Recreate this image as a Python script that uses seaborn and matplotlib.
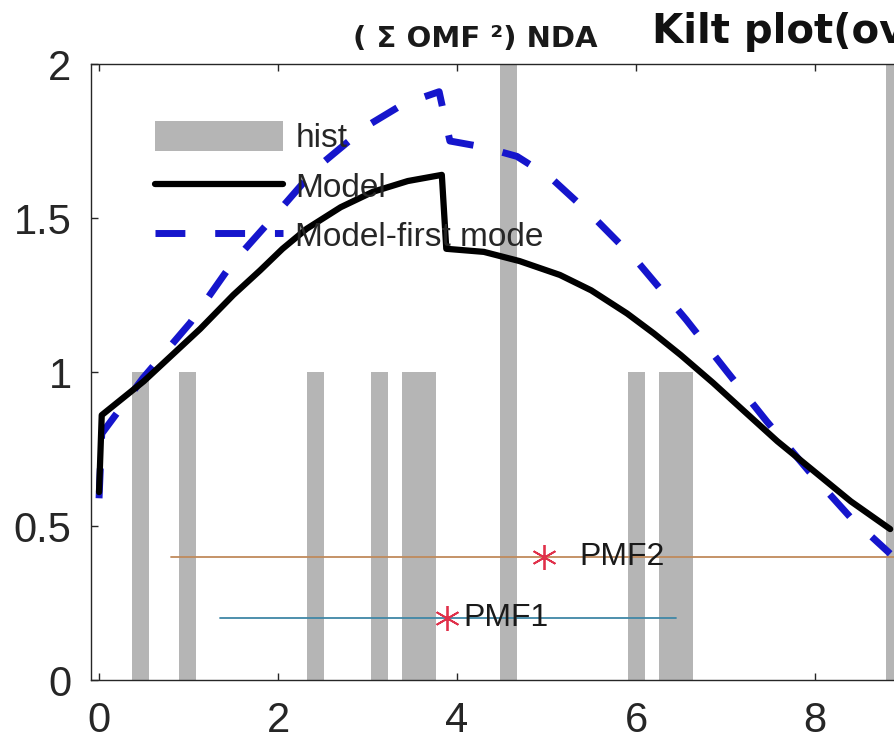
import numpy as np
import pandas as pd
import matplotlib
matplotlib.use("Agg")
import matplotlib.pyplot as plt
from matplotlib.patches import Patch
from matplotlib.lines import Line2D
import seaborn as sns

# ---------------- data ----------------
hist_x = [0.46, 0.99, 2.42, 3.13, 3.48, 3.67, 4.57, 6.00, 6.35, 6.54, 8.885]
hist_count = [1, 1, 1, 1, 1, 1, 3, 1, 1, 1, 3]

model_x = [0.0, 0.03, 0.5, 1.13, 1.5, 1.8, 2.05, 2.32, 2.7, 3.06, 3.45, 3.83, 3.88,
           4.3, 4.7, 5.15, 5.5, 5.9, 6.2, 6.5, 6.86, 7.2, 7.58, 7.98, 8.4, 8.84]
model_y = [0.61, 0.86, 0.97, 1.14, 1.25, 1.33, 1.40, 1.465, 1.535, 1.585, 1.62, 1.64, 1.40,
           1.39, 1.36, 1.315, 1.265, 1.19, 1.125, 1.055, 0.965, 0.875, 0.775, 0.68, 0.58, 0.49]

first_x = [0.0, 0.03, 0.49, 1.02, 1.48, 1.97, 2.42, 3.0, 3.4, 3.80, 3.92,
           4.3, 4.67, 5.05, 5.5, 6.01, 6.56, 7.02, 7.46, 7.94, 8.39, 8.84]
first_y = [0.59, 0.80, 0.98, 1.16, 1.35, 1.51, 1.66, 1.80, 1.87, 1.91, 1.75,
           1.73, 1.70, 1.63, 1.51, 1.36, 1.17, 1.00, 0.84, 0.675, 0.53, 0.41]

pmf_names = ["PMF1", "PMF2"]
pmf_y = [0.2, 0.4]
pmf_lo = [1.35, 0.80]
pmf_hi = [6.45, 9.60]
pmf_star = [3.89, 4.97]
pmf_text_x = [4.07, 5.37]

xticks = [0, 2, 4, 6, 8]
yticks = [0, 0.5, 1, 1.5, 2]
ytick_labels = ["0", "0.5", "1", "1.5", "2"]

# ---------------- style ----------------
sns.set_theme(style="ticks")
plt.rcParams["font.family"] = ["Liberation Sans", "DejaVu Sans"]
plt.rcParams["axes.linewidth"] = 1.0

GRAY = "#b5b5b5"
BLUE = "#1515cc"
PMF_COLORS = ["#3f87a6", "#c08a5c"]
STAR = "#e0304a"
AXC = "#262626"

fig = plt.figure(figsize=(8.94, 7.46), dpi=100)
fig.patch.set_facecolor("white")
ax = fig.add_axes([91 / 894, 66 / 746, 903 / 894, 616 / 746])

# histogram bars
sns.barplot(x=hist_x, y=hist_count, native_scale=True, width=1.0, color=GRAY,
            saturation=1, errorbar=None, ax=ax, linewidth=0, zorder=1)

# model curves
sns.lineplot(x=model_x, y=model_y, sort=False, estimator=None, color="black",
             lw=4.5, ax=ax, zorder=4)
sns.lineplot(x=first_x, y=first_y, sort=False, estimator=None, color=BLUE,
             lw=5, ax=ax, zorder=3)
ax.get_lines()[-1].set_dashes([4.3, 4.3])

# PMF markers
for name, y, lo, hi, sx, tx, c in zip(pmf_names, pmf_y, pmf_lo, pmf_hi,
                                       pmf_star, pmf_text_x, PMF_COLORS):
    sns.lineplot(x=[lo, hi], y=[y, y], sort=False, estimator=None, color=c,
                 lw=1.3, ax=ax, zorder=2)
    ax.plot([sx], [y], marker=(6, 2, 0), color=STAR, markersize=18, mew=1.3,
            linestyle="none", zorder=5)
    ax.text(tx, y, name, fontsize=23, va="center", ha="left", color="#1a1a1a",
            zorder=6)

ax.set_xlim(-0.09, 10)
ax.set_ylim(0, 2)
ax.set_xticks(xticks)
ax.set_xticklabels([str(t) for t in xticks])
ax.set_yticks(yticks)
ax.set_yticklabels(ytick_labels)
ax.set_xlabel("")
ax.set_ylabel("")
for s in ax.spines.values():
    s.set_visible(True)
    s.set_color(AXC)
    s.set_linewidth(1.0)
ax.tick_params(direction="in", length=5, width=1.0, top=True, right=True,
               colors=AXC, labelsize=30, labelcolor="#262626")
ax.tick_params(axis="y", pad=14)
ax.tick_params(axis="x", pad=15)

# legend
handles = [Patch(facecolor=GRAY, edgecolor="none"),
           Line2D([], [], color="black", lw=4.5),
           Line2D([], [], color=BLUE, lw=5, dashes=(4.3, 4.3))]
labels = ["hist", "Model", "Model-first mode"]
leg = ax.legend(handles, labels, loc="upper left",
                bbox_to_anchor=(155 / 894, 1 - 121 / 746),
                bbox_transform=fig.transFigure, frameon=False, fontsize=24,
                handlelength=3.85, handleheight=1.0, handletextpad=0.36,
                labelspacing=0.48, borderpad=0, borderaxespad=0)
leg.set_zorder(7)

# titles
fig.text(353 / 894, 1 - 47 / 746, "( Σ OMF ²) NDA", fontsize=21,
         fontweight="bold", ha="left", va="baseline", color="#1a1a1a",
         family="DejaVu Sans")
fig.text(652 / 894, 1 - 43 / 746, "Kilt plot(overall)", fontsize=29,
         fontweight="bold", ha="left", va="baseline", color="#111111",
         family="DejaVu Sans")

fig.savefig("out.png", dpi=100, facecolor="white")
